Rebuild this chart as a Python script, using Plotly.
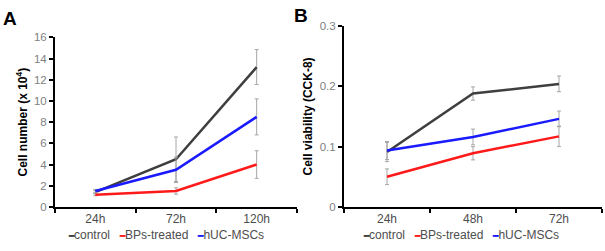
import plotly.graph_objects as go

# ---- data ----
cats_a = ["24h", "72h", "120h"]
control_a = [1.4, 4.5, 13.2]
control_a_err = [0.15, 2.1, 1.65]
bps_a = [1.15, 1.5, 4.0]
bps_a_err = [0.1, 0.3, 1.3]
huc_a = [1.5, 3.5, 8.5]
huc_a_err = [0.15, 1.2, 1.7]

cats_b = ["24h", "48h", "72h"]
control_b = [0.091, 0.188, 0.204]
control_b_err = [0.016, 0.011, 0.013]
bps_b = [0.050, 0.089, 0.117]
bps_b_err = [0.013, 0.011, 0.017]
huc_b = [0.0935, 0.116, 0.146]
huc_b_err = [0.015, 0.013, 0.013]

series_names = ["control", "BPs-treated", "hUC-MSCs"]
colors = ["#3f3f3f", "#ff1a1a", "#1a1aff"]
err_color = "#a6a6a6"
font_family = "Liberation Sans, Arial, sans-serif"

fig = go.Figure()

def add(cats, vals, errs, name, color, xa, ya):
    fig.add_trace(go.Scatter(
        x=cats, y=vals, name=name, mode="lines",
        line=dict(color=color, width=2.5),
        error_y=dict(type="data", array=errs, visible=True,
                     color=err_color, thickness=1, width=2),
        xaxis=xa, yaxis=ya, showlegend=False))

for vals, errs, name, col in zip([control_a, huc_a, bps_a], [control_a_err, huc_a_err, bps_a_err],
                                 ["control", "hUC-MSCs", "BPs-treated"], [colors[0], colors[2], colors[1]]):
    add(cats_a, vals, errs, name, col, "x", "y")
for vals, errs, name, col in zip([control_b, huc_b, bps_b], [control_b_err, huc_b_err, bps_b_err],
                                 ["control", "hUC-MSCs", "BPs-treated"], [colors[0], colors[2], colors[1]]):
    add(cats_b, vals, errs, name, col, "x2", "y2")

W, H = 605, 251
ybot = (H - 211) / H

axis_common = dict(showgrid=False, zeroline=False, showline=True, linecolor="black",
                   linewidth=2, ticks="outside", tickcolor="black", tickwidth=1.5, ticklen=4)

fig.update_layout(
    width=W, height=H, margin=dict(l=0, r=0, t=0, b=0),
    paper_bgcolor="white", plot_bgcolor="white",
    font=dict(family=font_family, size=12, color="#595959"),
    xaxis=dict(domain=[55 / W, 297 / W], anchor="y", type="category",
               categoryorder="array", categoryarray=cats_a, range=[-0.5, 2.5],
               tickson="boundaries", tickfont=dict(size=12, color="#4d4d4d"), **axis_common),
    yaxis=dict(domain=[ybot, (H - 33) / H], anchor="x", range=[0, 16], dtick=2,
               tickfont=dict(size=11.5, color="#808080"),
               title=dict(text="<b>Cell number (x 10<sup>4</sup>)</b>", font=dict(size=12, color="black"), standoff=4),
               **axis_common),
    xaxis2=dict(domain=[344 / W, 602 / W], anchor="y2", type="category",
                categoryorder="array", categoryarray=cats_b, range=[-0.5, 2.5],
                tickson="boundaries", tickfont=dict(size=12, color="#4d4d4d"), **axis_common),
    yaxis2=dict(domain=[ybot, (H - 21) / H], anchor="x2", range=[0, 0.3], dtick=0.1,
                tickfont=dict(size=11.5, color="#808080"),
                title=dict(text="<b>Cell viability (CCK-8)</b>", font=dict(size=12, color="black"), standoff=4),
                **axis_common),
)

def legend_text():
    parts = []
    for n, c in zip(series_names, colors):
        parts.append(f"<span style='color:{c};font-size:9px'><b>━</b></span>{n}")
    return "   ".join(parts)

fig.add_annotation(x=166 / W, y=(H - 240) / H, xref="paper", yref="paper", text=legend_text(),
                   showarrow=False, font=dict(size=12, color="#4d4d4d"), xanchor="center", yanchor="middle")
fig.add_annotation(x=461 / W, y=(H - 240) / H, xref="paper", yref="paper", text=legend_text(),
                   showarrow=False, font=dict(size=12, color="#4d4d4d"), xanchor="center", yanchor="middle")

fig.add_annotation(x=1 / W, y=(H - 13) / H, xref="paper", yref="paper", text="<b>A</b>",
                   showarrow=False, font=dict(size=19, color="black"), xanchor="left", yanchor="middle")
fig.add_annotation(x=292 / W, y=(H - 10) / H, xref="paper", yref="paper", text="<b>B</b>",
                   showarrow=False, font=dict(size=19, color="black"), xanchor="left", yanchor="middle")

fig.write_html("out.html")
